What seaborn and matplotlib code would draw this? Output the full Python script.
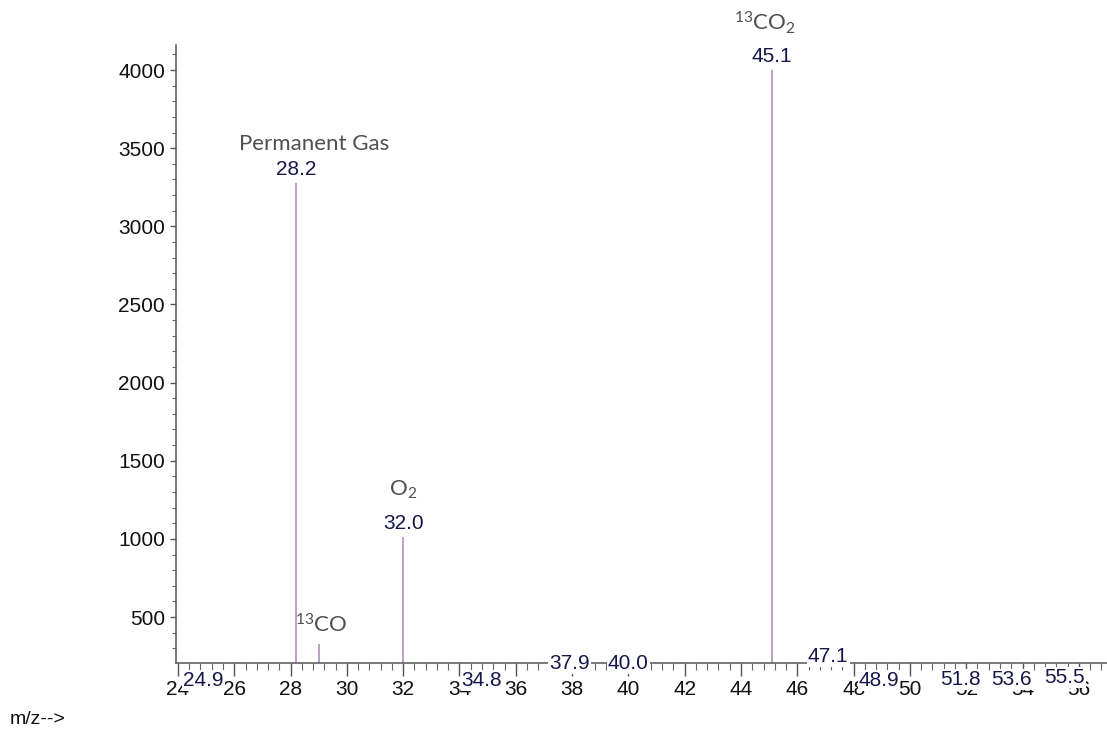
import matplotlib
matplotlib.use("Agg")
import matplotlib.pyplot as plt
from matplotlib.ticker import MultipleLocator
import seaborn as sns

# ---- data ----
mz = [24.9, 28.2, 29.0, 32.0, 34.8, 37.9, 40.0, 45.1, 47.1, 48.9, 51.8, 53.6, 55.5]
abundance = [5, 3277, 328, 1010, 5, 116, 116, 4000, 161, 5, 15, 15, 25]
peak_labels = ["24.9", "28.2", None, "32.0", "34.8", "37.9", "40.0", "45.1", "47.1",
               "48.9", "51.8", "53.6", "55.5"]
species_names = ["Permanent Gas", "$^{13}$CO", "O$_2$", "$^{13}$CO$_2$"]
species_x = [28.85, 29.1, 32.0, 44.85]
species_y = [3465, 375, 1240, 4215]
y_ticks = [500, 1000, 1500, 2000, 2500, 3000, 3500, 4000]
x_ticks = list(range(24, 57, 2))

sns.set_theme(style="white")
plt.rcParams["font.family"] = ["Liberation Sans", "DejaVu Sans"]
plt.rcParams["mathtext.default"] = "regular"

fig = plt.figure(figsize=(11.07, 7.42), dpi=100)
ax = fig.add_axes([176 / 1107, 1 - 663 / 742, (1107 - 176) / 1107, (663 - 45) / 742])

line_col = "#a886b2"
ax.vlines(mz, 0, abundance, colors=line_col, linewidth=1.1, zorder=2)

ax.set_xlim(23.93, 57.0)
ax.set_ylim(206, 4160)

sns.despine(ax=ax, top=True, right=True)
for s in ("left", "bottom"):
    ax.spines[s].set_color("#555555")
    ax.spines[s].set_linewidth(1.1)

ax.set_xticks(x_ticks)
ax.set_xticklabels([str(t) for t in x_ticks])
ax.set_yticks(y_ticks)
ax.set_yticklabels([str(t) for t in y_ticks])
ax.xaxis.set_minor_locator(MultipleLocator(0.4))
ax.yaxis.set_minor_locator(MultipleLocator(100))
ax.tick_params(axis="both", which="major", direction="out", length=9, width=1,
               color="#555555", labelsize=15, labelcolor="#111111", pad=3,
               bottom=True, left=True)
ax.tick_params(axis="both", which="minor", direction="out", length=5, width=0.8,
               color="#666666", bottom=True, left=True)
ax.tick_params(axis="y", which="major", length=4, pad=4)
ax.tick_params(axis="y", which="minor", length=3)

# peak m/z labels
for x, h, lab in zip(mz, abundance, peak_labels):
    if lab is None:
        continue
    ax.annotate(lab, xy=(x, h), xytext=(0, 3), textcoords="offset points",
                ha="center", va="bottom", fontsize=15, color="#16164a",
                annotation_clip=False, zorder=5,
                bbox=dict(boxstyle="square,pad=0.05", fc="white", ec="none"))

# species annotations
for name, x, y in zip(species_names, species_x, species_y):
    ax.text(x, y, name, ha="center", va="bottom", fontsize=16, color="#505050",
            family=["Lato", "Open Sans", "DejaVu Sans"], fontweight="normal",
            clip_on=False, zorder=5)

fig.text(10 / 1107, 1 - 719 / 742, "m/z-->", fontsize=14, color="#111111",
         ha="left", va="center")

fig.savefig("out.png", dpi=100)
